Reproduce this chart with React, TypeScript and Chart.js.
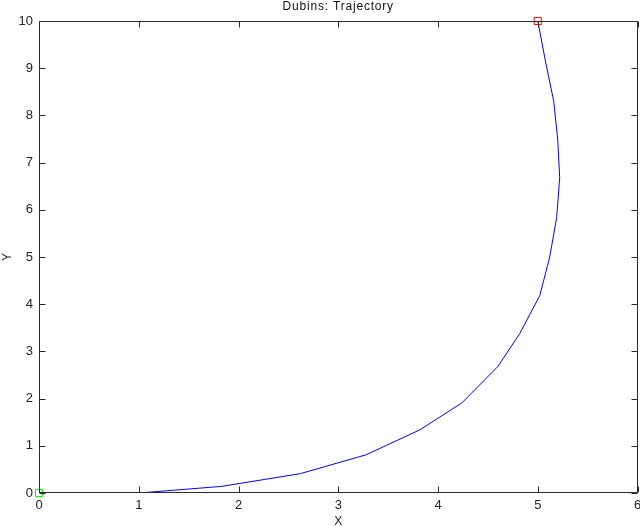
import React, { useEffect, useRef } from "react";
import { Chart, registerables } from "chart.js";

Chart.register(...registerables);

const trajX = [0, 1, 1.83, 2.62, 3.28, 3.82, 4.24, 4.6, 4.82, 5.02, 5.12, 5.19, 5.22, 5.2, 5.16, 5.08, 5.0];
const trajY = [0, 0, 0.14, 0.41, 0.81, 1.34, 1.91, 2.68, 3.38, 4.18, 5.0, 5.84, 6.68, 7.5, 8.3, 9.12, 10.0];
const startPoint = { x: 0, y: 0 };
const goalPoint = { x: 5, y: 10 };
const xTicks = [0, 1, 2, 3, 4, 5, 6];
const yTicks = [0, 1, 2, 3, 4, 5, 6, 7, 8, 9, 10];
const titleText = "Dubins: Trajectory";
const xLabel = "X";
const yLabel = "Y";

const FONT = "'Liberation Sans', Arial, Helvetica, sans-serif";

const framePlugin = {
  id: "matlabFrame",
  afterDraw(chart: any) {
    const { ctx, chartArea, scales } = chart;
    const { left, right, top, bottom } = chartArea;
    const L = Math.round(left) + 0.5;
    const R = Math.round(right) - 0.5;
    const T = Math.round(top) + 0.5;
    const B = Math.round(bottom) - 0.5;
    ctx.save();
    ctx.strokeStyle = "#2b2b2b";
    ctx.lineWidth = 1;
    ctx.beginPath();
    ctx.rect(L, T, R - L, B - T);
    const tl = 6;
    xTicks.forEach((v) => {
      const px = Math.round(scales.x.getPixelForValue(v)) + 0.5;
      ctx.moveTo(px, B);
      ctx.lineTo(px, B - tl);
      ctx.moveTo(px, T);
      ctx.lineTo(px, T + tl);
    });
    yTicks.forEach((v) => {
      const py = Math.round(scales.y.getPixelForValue(v)) + 0.5;
      ctx.moveTo(L, py);
      ctx.lineTo(L + tl, py);
      ctx.moveTo(R, py);
      ctx.lineTo(R - tl, py);
    });
    ctx.stroke();
    // title
    ctx.fillStyle = "#111";
    ctx.font = `12px ${FONT}`;
    try {
      (ctx as any).letterSpacing = "0.8px";
    } catch (e) {}
    ctx.textAlign = "center";
    ctx.textBaseline = "middle";
    ctx.fillText(titleText, (left + right) / 2, 7);
    ctx.restore();
  },
};

export default function App() {
  const ref = useRef<HTMLCanvasElement | null>(null);
  useEffect(() => {
    if (!ref.current) return;
    const chart = new Chart(ref.current, {
      type: "scatter",
      data: {
        datasets: [
          {
            label: "trajectory",
            data: trajX.map((x, i) => ({ x, y: trajY[i] })),
            showLine: true,
            borderColor: "#0000ff",
            borderWidth: 1,
            pointRadius: 0,
            tension: 0,
            order: 2,
          },
          {
            label: "start",
            data: [startPoint],
            pointStyle: "rect",
            pointRadius: 5,
            borderColor: "#00ff00",
            backgroundColor: "rgba(0,0,0,0)",
            borderWidth: 1,
            clip: false as any,
            order: 1,
          },
          {
            label: "goal",
            data: [goalPoint],
            pointStyle: "rect",
            pointRadius: 5,
            borderColor: "#ff0000",
            backgroundColor: "rgba(0,0,0,0)",
            borderWidth: 1,
            clip: false as any,
            order: 1,
          },
        ],
      },
      options: {
        responsive: false,
        animation: false,
        layout: { autoPadding: false, padding: { left: 0, right: 2.5, top: 21, bottom: 0 } },
        plugins: {
          legend: { display: false },
          tooltip: { enabled: false },
          title: { display: false },
        },
        scales: {
          x: {
            type: "linear",
            min: 0,
            max: 6,
            afterBuildTicks: (s: any) => {
              s.ticks = xTicks.map((v) => ({ value: v }));
            },
            ticks: {
              font: { family: FONT, size: 13 },
              color: "#222",
              padding: 5,
              maxRotation: 0,
              autoSkip: false,
            },
            grid: { display: false, drawTicks: false },
            border: { display: false },
            title: {
              display: true,
              text: xLabel,
              font: { family: FONT, size: 12 },
              color: "#222",
              padding: { top: 0, bottom: -3 },
            },
            afterFit: (s: any) => {
              s.height = 33;
              s.paddingLeft = 0;
              s.paddingRight = 0;
            },
          },
          y: {
            type: "linear",
            min: 0,
            max: 10,
            afterBuildTicks: (s: any) => {
              s.ticks = yTicks.map((v) => ({ value: v }));
            },
            ticks: {
              font: { family: FONT, size: 13 },
              color: "#222",
              padding: 6,
              autoSkip: false,
            },
            grid: { display: false, drawTicks: false },
            border: { display: false },
            title: {
              display: true,
              text: yLabel,
              font: { family: FONT, size: 12 },
              color: "#222",
              padding: { top: 0, bottom: 0 },
            },
            afterFit: (s: any) => {
              s.width = 39;
              s.paddingTop = 0;
              s.paddingBottom = 0;
            },
          },
        },
      },
      plugins: [framePlugin],
    });
    return () => chart.destroy();
  }, []);
  return (
    <div
      style={{
        position: "absolute",
        left: 0,
        top: 0,
        width: 640,
        height: 526,
        overflow: "hidden",
        background: "#fff",
      }}
    >
      <canvas ref={ref} width={640} height={526} style={{ display: "block" }} />
    </div>
  );
}
